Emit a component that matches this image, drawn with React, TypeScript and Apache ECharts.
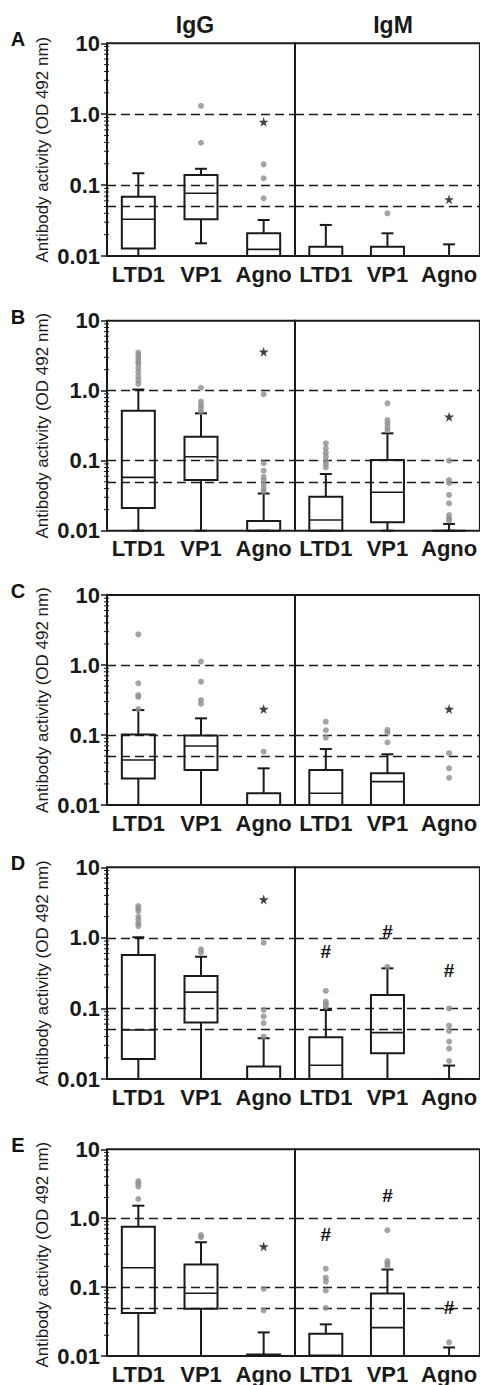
import React, { useEffect, useRef } from 'react';
import * as echarts from 'echarts';

// ---------- DATA ----------
const categories = ['LTD1', 'VP1', 'Agno'];
const isotypes = ['IgG', 'IgM'];
const panelLetters = ['A', 'B', 'C', 'D', 'E'];
const yTickLabels = ['0.01', '0.1', '1.0', '10'];
const yAxisTitle = 'Antibody activity (OD 492 nm)';
const referenceLines = [1, 0.1, 0.05];
const minorTickValues = [
  0.02, 0.03, 0.04, 0.05, 0.06, 0.07, 0.08, 0.09,
  0.2, 0.3, 0.4, 0.5, 0.6, 0.7, 0.8, 0.9,
  2, 3, 4, 5, 6, 7, 8, 9,
];

// box stats per category: [min, Q1, median, Q3, max]  (null = no box)
const boxA_IgG = [[0.01, 0.0128, 0.033, 0.0686, 0.147], [0.0151, 0.033, 0.0766, 0.139, 0.17], [0.01, 0.01, 0.0124, 0.0209, 0.0322]];
const boxA_IgM = [[0.01, 0.01, 0.01, 0.0135, 0.0274], [0.01, 0.01, 0.01, 0.0135, 0.0209], [0.01, 0.01, 0.01, 0.01, 0.0146]];
const boxB_IgG = [[0.01, 0.0211, 0.0578, 0.518, 1.04], [0.01, 0.053, 0.114, 0.22, 0.475], [0.01, 0.01, 0.01, 0.0138, 0.034]];
const boxB_IgM = [[0.01, 0.01, 0.0142, 0.0306, 0.0646], [0.01, 0.0132, 0.0354, 0.102, 0.246], [0.01, 0.01, 0.01, 0.01, 0.0125]];
const boxC_IgG = [[0.01, 0.024, 0.044, 0.102, 0.227], [0.01, 0.0316, 0.0697, 0.098, 0.173], [0.01, 0.01, 0.01, 0.0147, 0.0334]];
const boxC_IgM = [[0.01, 0.01, 0.0147, 0.0316, 0.063], [0.01, 0.01, 0.0216, 0.0284, 0.053], null];
const boxD_IgG = [[0.01, 0.0192, 0.0495, 0.573, 1.02], [0.01, 0.063, 0.17, 0.289, 0.54], [0.01, 0.01, 0.01, 0.015, 0.0378]];
const boxD_IgM = [[0.01, 0.01, 0.0157, 0.039, 0.095], [0.01, 0.0232, 0.0454, 0.155, 0.37], [0.01, 0.01, 0.01, 0.01, 0.0155]];
const boxE_IgG = [[0.01, 0.0422, 0.191, 0.75, 1.52], [0.01, 0.0486, 0.0813, 0.213, 0.448], [0.01, 0.01, 0.0103, 0.0105, 0.022]];
const boxE_IgM = [[0.01, 0.01, 0.0102, 0.021, 0.0288], [0.01, 0.01, 0.0258, 0.081, 0.18], [0.01, 0.01, 0.01, 0.01, 0.0133]];

// outliers: [categoryIndex, value]
const outA_IgG = [[1, 1.31], [1, 0.396], [2, 0.196], [2, 0.125], [2, 0.065]];
const outA_IgM = [[1, 0.04]];
const outB_IgG = [[0, 3.5], [0, 3.2], [0, 2.9], [0, 2.6], [0, 2.4], [0, 2.1], [0, 1.85], [0, 1.6], [0, 1.4], [0, 1.25],
  [1, 1.1], [1, 0.7], [1, 0.62], [1, 0.56], [1, 0.5],
  [2, 0.89], [2, 0.092], [2, 0.072], [2, 0.059], [2, 0.053], [2, 0.046], [2, 0.04], [2, 0.036]];
const outB_IgM = [[0, 0.177], [0, 0.15], [0, 0.13], [0, 0.115], [0, 0.1], [0, 0.09], [0, 0.08],
  [1, 0.66], [1, 0.38], [1, 0.34], [1, 0.3], [1, 0.27],
  [2, 0.1], [2, 0.053], [2, 0.048], [2, 0.0324], [2, 0.0246], [2, 0.0167], [2, 0.015], [2, 0.014]];
const outC_IgG = [[0, 2.74], [0, 0.547], [0, 0.372], [0, 0.35], [0, 0.235], [1, 1.12], [1, 0.578], [1, 0.316], [1, 0.28], [2, 0.058]];
const outC_IgM = [[0, 0.155], [0, 0.117], [0, 0.092], [1, 0.118], [1, 0.108], [1, 0.0787], [2, 0.055], [2, 0.0334], [2, 0.0245]];
const outD_IgG = [[0, 2.83], [0, 2.6], [0, 2.4], [0, 2.0], [0, 1.8], [0, 1.6], [0, 1.47], [1, 0.69], [1, 0.62],
  [2, 0.855], [2, 0.095], [2, 0.077], [2, 0.062], [2, 0.04]];
const outD_IgM = [[0, 0.177], [0, 0.125], [0, 0.115], [0, 0.105], [1, 0.39],
  [2, 0.1], [2, 0.057], [2, 0.048], [2, 0.0339], [2, 0.027], [2, 0.018]];
const outE_IgG = [[0, 3.46], [0, 3.2], [0, 2.88], [0, 1.9], [1, 0.57], [1, 0.53], [2, 0.094], [2, 0.046]];
const outE_IgM = [[0, 0.185], [0, 0.137], [0, 0.12], [0, 0.089], [0, 0.0498], [1, 0.67], [1, 0.238], [1, 0.22], [1, 0.2], [2, 0.0158]];

// significance marks: [panelIndex, isotypeIndex, categoryIndex, value]
const starMarks = [[0, 0, 2, 0.78], [0, 1, 2, 0.063], [1, 0, 2, 3.6], [1, 1, 2, 0.425], [2, 0, 2, 0.235], [2, 1, 2, 0.235], [3, 0, 2, 3.5], [4, 0, 2, 0.39]];
const hashMarks = [[3, 1, 0, 0.64], [3, 1, 1, 1.22], [3, 1, 2, 0.35], [4, 1, 0, 0.58], [4, 1, 1, 2.16], [4, 1, 2, 0.0514]];
const hashSymbol = '#';

const boxSets = [[boxA_IgG, boxA_IgM], [boxB_IgG, boxB_IgM], [boxC_IgG, boxC_IgM], [boxD_IgG, boxD_IgM], [boxE_IgG, boxE_IgM]];
const outlierSets = [[outA_IgG, outA_IgM], [outB_IgG, outB_IgM], [outC_IgG, outC_IgM], [outD_IgG, outD_IgM], [outE_IgG, outE_IgM]];

// ---------- LAYOUT ----------
const W = 480;
const H = 1385;
const panelTops = [43.3, 320.7, 595, 867.3, 1149.3];
const panelBottoms = [256, 530.7, 805, 1079, 1360];
const halfLeft = [107, 295];
const halfWidth = [188, 186];
const FONT = 'Liberation Sans, Arial, Helvetica, sans-serif';
const INK = '#1a1a1a';
const STAR_PATH = 'path://M50,0 L61,35 L98,35 L68,57 L79,91 L50,70 L21,91 L32,57 L2,35 L39,35 Z';

function buildOption() {
  const grid: any[] = [];
  const xAxis: any[] = [];
  const yAxis: any[] = [];
  const series: any[] = [];
  const graphic: any[] = [];

  for (let p = 0; p < panelLetters.length; p++) {
    for (let h = 0; h < 2; h++) {
      const gi = p * 2 + h;
      grid.push({
        left: halfLeft[h],
        width: halfWidth[h],
        top: panelTops[p],
        height: panelBottoms[p] - panelTops[p],
        show: true,
        borderColor: INK,
        borderWidth: 2,
        backgroundColor: 'transparent',
      });
      xAxis.push({
        type: 'category',
        gridIndex: gi,
        data: categories,
        axisLine: { show: false },
        axisTick: { show: false },
        splitLine: { show: false },
        axisLabel: {
          interval: 0,
          margin: 7,
          fontSize: 22,
          fontWeight: 'bold',
          color: INK,
          fontFamily: FONT,
        },
      });
      yAxis.push({
        type: 'log',
        logBase: 10,
        gridIndex: gi,
        min: 0.01,
        max: 10,
        axisLine: { show: false },
        splitLine: { show: false },
        axisTick: { show: h === 0, length: 6, lineStyle: { color: INK, width: 1.5 } },
        axisLabel: {
          show: h === 0,
          margin: 7,
          fontSize: 22,
          fontWeight: 'bold',
          color: INK,
          fontFamily: FONT,
          formatter: (v: number) => {
            const e = Math.round(Math.log10(v));
            return yTickLabels[e + 2] ?? '';
          },
        },
      });

      const boxes = boxSets[p][h];
      const boxData: any[] = [];
      boxes.forEach((b, ci) => {
        if (b) boxData.push([ci, ...b]);
      });

      series.push({
        type: 'custom',
        xAxisIndex: gi,
        yAxisIndex: gi,
        clip: false,
        z: 3,
        encode: { x: 0, y: [1, 2, 3, 4, 5] },
        data: boxData,
        renderItem: (params: any, api: any) => {
          const ci = api.value(0);
          const cx = api.coord([ci, api.value(3)])[0];
          const yy = (v: number) => api.coord([ci, v])[1];
          const yMin = yy(api.value(1));
          const yQ1 = yy(api.value(2));
          const yMed = yy(api.value(3));
          const yQ3 = yy(api.value(4));
          const yMax = yy(api.value(5));
          const bw = 33;
          const cw = 12;
          const st = { stroke: INK, lineWidth: 2, fill: null };
          return {
            type: 'group',
            children: [
              { type: 'line', shape: { x1: cx, y1: yQ3, x2: cx, y2: yMax }, style: st },
              { type: 'line', shape: { x1: cx - cw / 2, y1: yMax, x2: cx + cw / 2, y2: yMax }, style: st },
              { type: 'line', shape: { x1: cx, y1: yQ1, x2: cx, y2: yMin }, style: st },
              { type: 'line', shape: { x1: cx - cw / 2, y1: yMin, x2: cx + cw / 2, y2: yMin }, style: st },
              { type: 'rect', shape: { x: cx - bw / 2, y: yQ3, width: bw, height: Math.max(0, yQ1 - yQ3) }, style: { stroke: INK, lineWidth: 2, fill: 'none' } },
              { type: 'line', shape: { x1: cx - bw / 2, y1: yMed, x2: cx + bw / 2, y2: yMed }, style: { stroke: INK, lineWidth: 1.6 } },
            ],
          };
        },
        markLine: {
          silent: true,
          symbol: 'none',
          label: { show: false },
          lineStyle: { type: [9, 5], color: INK, width: 1.3 },
          data: referenceLines.map((v) => ({ yAxis: v })),
          z: 1,
        },
      });

      series.push({
        type: 'scatter',
        xAxisIndex: gi,
        yAxisIndex: gi,
        symbol: 'circle',
        symbolSize: 6,
        z: 4,
        itemStyle: { color: '#8d8d8d' },
        data: outlierSets[p][h],
      });

      const stars = starMarks.filter((s) => s[0] === p && s[1] === h).map((s) => [s[2], s[3]]);
      if (stars.length) {
        series.push({
          type: 'scatter',
          xAxisIndex: gi,
          yAxisIndex: gi,
          symbol: STAR_PATH,
          symbolSize: 10,
          z: 5,
          itemStyle: { color: '#111' },
          data: stars,
        });
      }
      const hashes = hashMarks.filter((s) => s[0] === p && s[1] === h).map((s) => [s[2], s[3]]);
      if (hashes.length) {
        series.push({
          type: 'custom',
          xAxisIndex: gi,
          yAxisIndex: gi,
          clip: false,
          z: 5,
          encode: { x: 0, y: 1 },
          data: hashes,
          renderItem: (params: any, api: any) => {
            const pt = api.coord([api.value(0), api.value(1)]);
            return {
              type: 'text',
              x: pt[0],
              y: pt[1],
              style: {
                text: hashSymbol,
                font: `bold 19px ${FONT}`,
                fill: '#111',
                align: 'center',
                verticalAlign: 'middle',
              },
            };
          },
        });
      }

      if (h === 0) {
        series.push({
          type: 'custom',
          xAxisIndex: gi,
          yAxisIndex: gi,
          clip: false,
          z: 4,
          encode: { x: 0, y: 1 },
          data: minorTickValues.map((v) => [0, v]),
          renderItem: (params: any, api: any) => {
            const x0 = params.coordSys.x;
            const y = api.coord([0, api.value(1)])[1];
            return {
              type: 'line',
              shape: { x1: x0 - 3, y1: y, x2: x0 + 2, y2: y },
              style: { stroke: INK, lineWidth: 1 },
            };
          },
        });
      }
    }

    const midY = (panelTops[p] + panelBottoms[p]) / 2;
    graphic.push({
      type: 'text',
      x: 42,
      y: midY,
      rotation: Math.PI / 2,
      style: {
        text: yAxisTitle,
        font: `normal 17px ${FONT}`,
        fill: INK,
        align: 'center',
        verticalAlign: 'middle',
      },
    });
    graphic.push({
      type: 'text',
      x: 18,
      y: panelTops[p] - 4,
      style: {
        text: panelLetters[p],
        font: `bold 20px ${FONT}`,
        fill: '#111',
        align: 'center',
        verticalAlign: 'middle',
      },
    });
  }

  graphic.push({
    type: 'text',
    x: 195,
    y: 25,
    style: { text: isotypes[0], font: `bold 23px ${FONT}`, fill: INK, align: 'center', verticalAlign: 'middle' },
  });
  graphic.push({
    type: 'text',
    x: 393,
    y: 25,
    style: { text: isotypes[1], font: `bold 23px ${FONT}`, fill: INK, align: 'center', verticalAlign: 'middle' },
  });

  return {
    animation: false,
    backgroundColor: '#ffffff',
    grid,
    xAxis,
    yAxis,
    series,
    graphic,
  };
}

export default function App() {
  const ref = useRef<HTMLDivElement>(null);
  useEffect(() => {
    if (!ref.current) return;
    const chart = echarts.init(ref.current, null, { renderer: 'svg', width: W, height: H });
    chart.setOption(buildOption() as any);
    return () => chart.dispose();
  }, []);
  return (
    <div
      ref={ref}
      style={{ position: 'absolute', left: 0, top: 0, width: W, height: H, background: '#fff' }}
    />
  );
}
